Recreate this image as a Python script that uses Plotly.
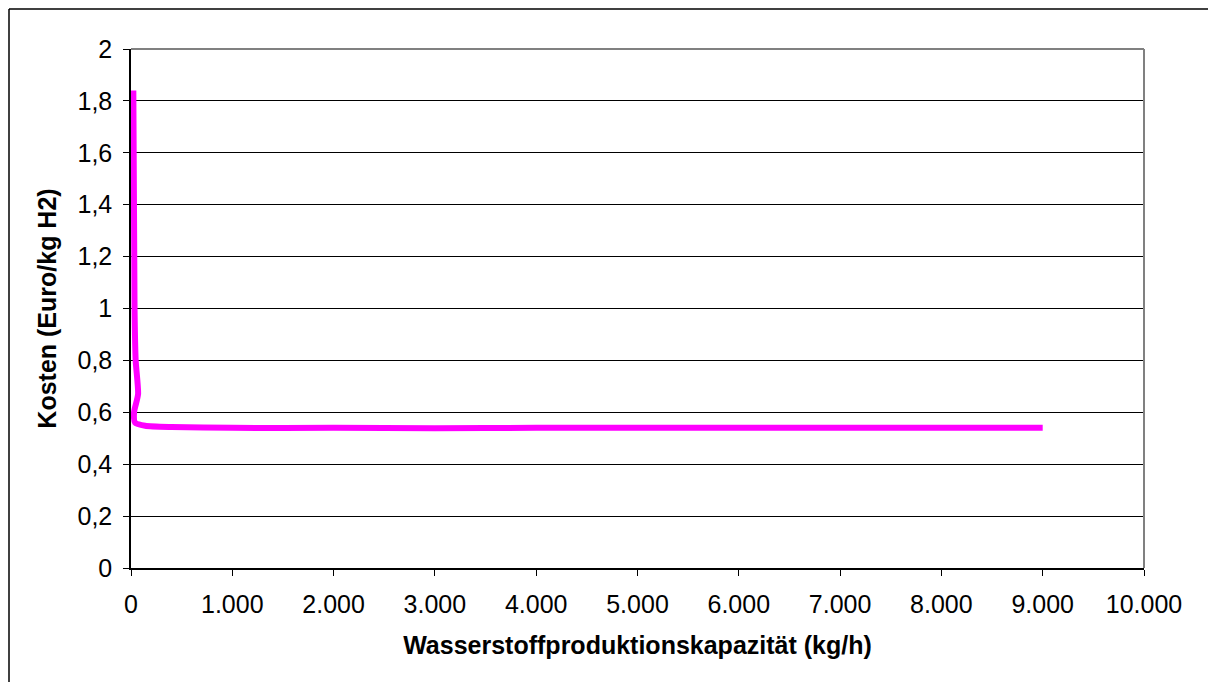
import plotly.graph_objects as go

capacity = [23, 35, 46, 70, 30, 40, 140, 400, 1000, 2000, 3000, 4000, 5000, 6000, 7000, 8000, 9000]
cost = [1.84, 1.0, 0.80, 0.67, 0.60, 0.56, 0.548, 0.543, 0.540, 0.540, 0.539, 0.540, 0.540, 0.540, 0.540, 0.540, 0.540]

x_title = "Wasserstoffproduktionskapazität (kg/h)"
y_title = "Kosten (Euro/kg H2)"

OFF = 8  # page offset of the figure
W, H = 1216, 686
L, R, T, B = 131 - OFF, 1144 - OFF, 49 - OFF, 568 - OFF
pw, ph = R - L, B - T

fig = go.Figure()
fig.add_trace(go.Scatter(
    x=capacity, y=cost, mode="lines",
    line=dict(color="#FF00FF", width=6, shape="spline", smoothing=0.6),
    showlegend=False, hoverinfo="x+y",
))

font = "Liberation Sans, Arial, sans-serif"
fig.update_layout(
    width=W, height=H,
    margin=dict(l=L, r=W - R, t=T, b=H - B, autoexpand=False),
    paper_bgcolor="white", plot_bgcolor="white",
    separators=",.",
    font=dict(family=font, size=25, color="black"),
    xaxis=dict(
        range=[0, 10000], dtick=1000, tickformat=",d", showgrid=False,
        showline=True, linecolor="black", linewidth=1.5, mirror=False,
        ticks="outside", ticklen=6, tickcolor="black", tickwidth=1,
        zeroline=False, ticklabelstandoff=7,
        title=dict(text="<b>" + x_title + "</b>", font=dict(size=25), standoff=20),
        fixedrange=True,
    ),
    yaxis=dict(
        range=[0, 2], dtick=0.2, showgrid=True, gridcolor="black", gridwidth=1,
        showline=True, linecolor="black", linewidth=1.5,
        ticks="outside", ticklen=6, tickcolor="black", tickwidth=1,
        zeroline=False, ticklabelstandoff=6,
        title=dict(text="<b>" + y_title + "</b>", font=dict(size=25), standoff=14),
        fixedrange=True,
    ),
)

# grey frame on top and right of plot area
fig.add_shape(type="line", xref="paper", yref="paper", x0=0, x1=1, y0=1, y1=1,
              line=dict(color="#808080", width=2))
fig.add_shape(type="line", xref="paper", yref="paper", x0=1, x1=1, y0=0, y1=1,
              line=dict(color="#808080", width=2))
# outer chart border: left and top edges, kept inside the figure bounds
bx0 = (1 - L) / pw
bx1 = (W - 12 - L) / pw
by1 = (B - 1) / ph
by0 = (B - (H - 12)) / ph
fig.add_shape(type="line", xref="paper", yref="paper", x0=bx0, x1=bx1, y0=by1, y1=by1,
              line=dict(color="black", width=1.5))
fig.add_shape(type="line", xref="paper", yref="paper", x0=bx0, x1=bx0, y0=by0, y1=by1,
              line=dict(color="black", width=1.5))

fig.write_html("out.html")
